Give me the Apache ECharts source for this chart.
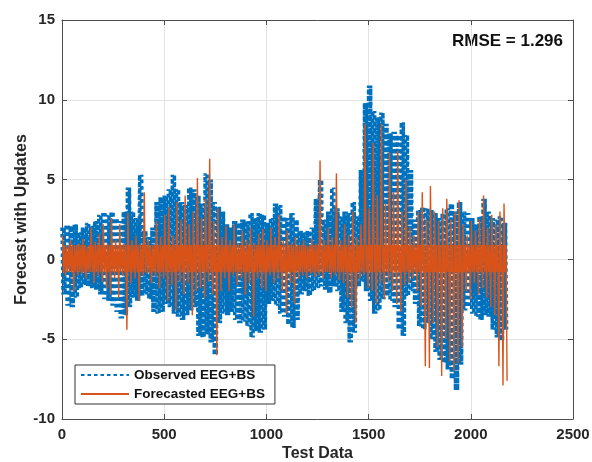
<!DOCTYPE html>
<html><head><meta charset="utf-8">
<script src="https://cdn.jsdelivr.net/npm/echarts@6/dist/echarts.min.js"></script>
<style>html,body{margin:0;padding:0;background:#fff}#c{width:592px;height:462px}</style>
</head><body><div id="c"></div>
<script>
// envelope readings: one high/low pair per 20 test-data units starting at 0
const xStart = 0, xStep = 20;
const obsHi = [2.0,2.2,2.1,2.2,1.7,2.0,2.3,2.1,2.4,2.8,3.0,2.8,3.0,2.6,2.4,3.0,4.5,3.0,2.6,5.3,
  1.8,1.4,2.0,3.6,3.9,4.0,4.4,5.3,4.4,3.6,3.4,4.5,4.4,4.0,3.5,5.4,5.0,3.6,3.3,3.0,
  2.2,2.0,2.4,2.3,2.5,2.4,2.9,2.6,2.9,2.8,2.3,2.6,3.5,3.4,2.7,2.6,2.9,2.5,1.8,1.7,
  1.8,2.0,3.8,5.0,2.5,3.0,4.5,3.2,2.7,3.0,2.9,3.6,2.7,5.6,9.8,10.9,9.3,8.9,9.2,8.5,
  7.9,8.0,7.8,8.6,7.8,5.6,2.5,3.1,3.3,3.2,3.1,2.9,2.6,2.9,3.2,3.5,3.0,3.6,3.0,2.9,
  2.6,2.2,2.7,3.8,3.0,2.6,2.5,2.7,2.3];
const obsLo = [-2.2,-2.9,-3.0,-2.4,-1.8,-1.6,-1.7,-1.8,-1.9,-2.2,-2.5,-2.6,-2.9,-3.3,-3.7,-3.5,-3.0,-2.4,-2.6,-2.3,
  -2.2,-2.5,-3.3,-3.4,-3.3,-2.8,-3.0,-3.4,-3.6,-3.8,-3.5,-3.2,-3.0,-4.8,-4.9,-4.7,-5.2,-6.0,-4.0,-3.4,
  -3.5,-3.3,-3.8,-4.0,-3.9,-4.2,-4.9,-4.5,-4.6,-4.4,-2.8,-2.6,-2.9,-3.4,-3.6,-4.1,-4.3,-3.8,-2.2,-2.0,
  -2.3,-2.0,-1.8,-1.7,-1.9,-2.1,-1.7,-2.0,-3.3,-4.0,-5.2,-4.6,-1.7,-1.4,-2.0,-2.6,-3.4,-3.2,-2.5,-2.3,
  -2.6,-3.0,-4.4,-4.8,-2.3,-2.0,-2.8,-4.2,-4.4,-4.0,-5.0,-5.8,-6.3,-6.5,-6.9,-7.5,-8.2,-6.6,-3.2,-3.0,
  -3.4,-3.6,-3.8,-3.5,-3.6,-4.4,-4.9,-5.1,-4.4];
const fcHi = [1.5,0.8,1.2,0.9,1.0,1.3,0.8,2.0,1.1,1.6,2.2,1.0,2.6,1.2,2.2,1.0,2.9,1.2,1.5,1.0,
  4.2,1.2,0.9,2.4,1.4,2.8,3.3,1.5,3.6,2.5,4.0,2.2,3.0,5.1,2.6,3.8,6.3,2.4,3.2,1.4,
  2.1,1.2,2.2,1.0,1.8,1.2,2.0,1.0,1.6,1.9,1.2,2.0,1.4,2.8,1.2,1.8,1.0,1.4,0.9,1.2,
  0.8,1.3,1.0,6.2,1.2,2.0,1.4,5.4,1.2,2.2,1.5,3.0,1.4,2.2,8.5,3.2,7.3,4.0,8.5,3.5,
  6.7,4.2,6.8,3.0,5.0,2.0,1.5,3.0,4.2,2.5,4.6,3.0,2.4,3.2,3.8,2.5,3.0,3.7,2.2,1.5,
  2.4,1.8,2.5,4.0,2.0,2.8,2.2,3.0,3.5];
const fcLo = [-1.0,-0.8,-2.0,-1.0,-0.9,-1.2,-0.8,-1.5,-1.0,-1.4,-1.8,-2.2,-1.2,-2.4,-1.0,-4.4,-1.5,-1.2,-2.6,-1.0,
  -0.9,-1.5,-1.0,-1.8,-1.2,-2.6,-1.6,-3.2,-1.4,-2.2,-1.5,-3.5,-2.0,-1.8,-2.4,-1.4,-2.2,-6.0,-2.0,-1.2,
  -2.0,-1.0,-1.6,-1.2,-2.2,-1.5,-3.6,-1.2,-1.8,-2.0,-1.0,-1.5,-1.2,-2.0,-3.4,-1.5,-2.8,-1.2,-1.0,-1.2,
  -0.9,-1.1,-1.0,-1.2,-0.8,-1.2,-1.0,-1.3,-1.5,-2.4,-3.0,-4.0,-1.2,-1.0,-1.8,-2.0,-2.8,-1.5,-2.5,-1.4,
  -2.0,-2.8,-3.3,-1.6,-1.5,-1.2,-2.0,-3.0,-6.7,-6.8,-4.0,-5.5,-7.3,-5.0,-6.4,-7.0,-6.5,-5.5,-2.0,-2.5,
  -1.5,-2.2,-1.8,-2.4,-3.0,-3.5,-6.7,-7.9,-7.6];
// dense core band of the forecast around zero
const fcCore = [0.9, -0.8];
const xTicks = [0, 500, 1000, 1500, 2000, 2500];
const yTicks = [-10, -5, 0, 5, 10, 15];
const seriesNames = ['Observed EEG+BS', 'Forecasted EEG+BS'];
const rmseText = 'RMSE = 1.296';
const xTitle = 'Test Data', yTitle = 'Forecast with Updates';

const obsData = [], fcData = [];
const q = xStep / 4;
for (let i = 0; i < obsHi.length; i++) {
  const x = xStart + i * xStep;
  obsData.push([x, obsHi[i]], [x + q, obsLo[i]], [x + 2 * q, obsHi[i]], [x + 3 * q, obsLo[i]]);
  fcData.push([x + q / 2, fcHi[i]], [x + 1.5 * q, fcCore[1]], [x + 2.5 * q, fcCore[0]], [x + 3.5 * q, fcLo[i]]);
}

const FONT = '"Liberation Sans", Arial, Helvetica, sans-serif';
const axisCol = '#4d4d4d';
const chart = echarts.init(document.getElementById('c'), null, {renderer: 'canvas'});
const xMin = xTicks[0], xMax = xTicks[xTicks.length - 1], xInt = xTicks[1] - xTicks[0];
const yMin = yTicks[0], yMax = yTicks[yTicks.length - 1], yInt = yTicks[1] - yTicks[0];
const baseAxis = {
  axisLine: {show: true, onZero: false, lineStyle: {color: axisCol, width: 1}},
  axisTick: {show: true, inside: true, length: 5, lineStyle: {color: axisCol}},
  splitLine: {show: true, lineStyle: {color: '#e3e3e3', width: 1}},
  axisLabel: {color: '#262626', fontFamily: FONT, fontWeight: 'bold', fontSize: 15, formatter: v => String(v)}
};
chart.setOption({
  animation: false,
  backgroundColor: '#fff',
  grid: {left: 62, right: 19, top: 20, bottom: 43, containLabel: false, outerBoundsMode: 'none'},
  xAxis: [
    Object.assign({}, baseAxis, {type: 'value', min: xMin, max: xMax, interval: xInt, position: 'bottom',
      name: xTitle, nameLocation: 'middle', nameGap: 27, nameMoveOverlap: false,
      nameTextStyle: {color: '#262626', fontFamily: FONT, fontWeight: 'bold', fontSize: 16},
      axisLabel: Object.assign({}, baseAxis.axisLabel, {margin: 8})}),
    Object.assign({}, baseAxis, {type: 'value', min: xMin, max: xMax, interval: xInt, position: 'top',
      axisLabel: {show: false}, splitLine: {show: false}})
  ],
  yAxis: [
    Object.assign({}, baseAxis, {type: 'value', min: yMin, max: yMax, interval: yInt, position: 'left',
      name: yTitle, nameLocation: 'middle', nameGap: 32, nameRotate: 90, nameMoveOverlap: false,
      nameTextStyle: {color: '#262626', fontFamily: FONT, fontWeight: 'bold', fontSize: 16},
      axisLabel: Object.assign({}, baseAxis.axisLabel, {margin: 7})}),
    Object.assign({}, baseAxis, {type: 'value', min: yMin, max: yMax, interval: yInt, position: 'right',
      axisLabel: {show: false}, splitLine: {show: false}})
  ],
  legend: {
    data: seriesNames, orient: 'vertical', left: 75, top: 365,
    itemWidth: 48, itemHeight: 12, itemGap: 5,
    itemStyle: {opacity: 0},
    padding: [3, 10, 3, 5], borderColor: '#333', borderWidth: 1, backgroundColor: '#fff',
    textStyle: {color: '#111', fontFamily: FONT, fontWeight: 'bold', fontSize: 13.5}
  },
  graphic: [{
    type: 'text', right: 29, top: 33,
    style: {text: rmseText, fill: '#111', font: 'bold 17px ' + FONT}
  }],
  series: [
    {name: seriesNames[0], type: 'line', data: obsData, showSymbol: false, symbol: 'none',
     lineStyle: {color: '#0072BD', width: 3.5, type: [3.5, 3], cap: 'butt'}, itemStyle: {color: '#0072BD'}, z: 2},
    {name: seriesNames[1], type: 'line', data: fcData, showSymbol: false, symbol: 'none',
     lineStyle: {color: '#D95319', width: 1.4}, itemStyle: {color: '#D95319'}, z: 3}
  ]
});
</script></body></html>
